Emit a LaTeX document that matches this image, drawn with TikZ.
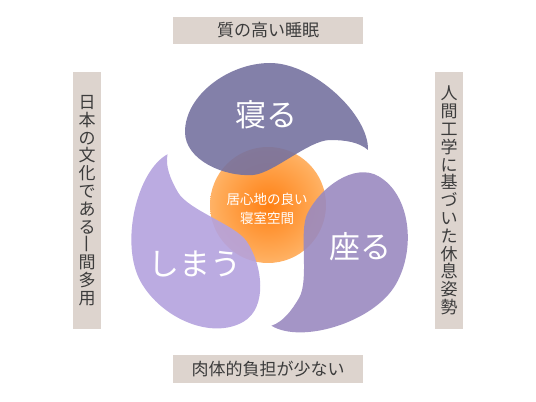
\documentclass[tikz,border=0pt]{standalone}
\usepackage{fontspec}
\setmainfont{Noto Sans CJK JP}
\usepackage{xcolor}
\usepackage{graphicx}
\usepackage{tikz}
\usetikzlibrary{positioning}

\definecolor{neru}{RGB}{118,114,160}
\definecolor{suwaru}{RGB}{154,138,192}
\definecolor{shimau}{RGB}{180,162,222}
\definecolor{boxfill}{RGB}{221,212,206}
\definecolor{boxtext}{RGB}{60,60,60}
\definecolor{glowA}{RGB}{255,128,20}
\definecolor{glowB}{RGB}{255,172,90}
\definecolor{glowC}{RGB}{255,230,208}
\pgfdeclareradialshading{glow}{\pgfpoint{0bp}{0bp}}{color(0bp)=(glowA); color(22bp)=(glowB); color(50bp)=(glowC)}

\begin{document}
\begin{tikzpicture}[x=1pt, y=1pt,
    labelbox/.style={fill=boxfill, text=boxtext, inner sep=0pt, font=\fontsize{17}{17.8}\selectfont},
    bigtext/.style={text=white, font=\fontsize{31}{31}\selectfont},
    tomoe/.style={fill opacity=.9}]
  \useasboundingbox (0,0) rectangle (536,402);

  % warm centre
  \shade[shading=glow] (268,197) circle (58);

  % three commas, turned by 120 degrees
  \foreach \a/\c in {0/neru, -120/suwaru, 120/shimau}
    \fill[tomoe, \c, shift={(269,192)}, rotate=\a]
      (99,60) .. controls (100,95) and (45,147) .. (1,147)
      .. controls (-40,147) and (-84,115) .. (-84,78)
      .. controls (-84,50) and (-45,33) .. (-16,35)
      .. controls (4,36.4) and (40,70) .. (61,70)
      .. controls (76,70) and (90,68) .. (99,60) -- cycle;

  \node[bigtext] (sleep) at (266,287) {寝る};
  \node[bigtext] (sit) at (360,155) {座る};
  \node[bigtext] (store) at (195,138) {しまう};
  \node[text=white, align=center, font=\fontsize{13.5}{19}\selectfont] (room) at (267,193)
    {居心地の良い\\寝室空間};

  % labels round the edge
  \node[labelbox, minimum width=190pt, minimum height=27pt] (quality) at (268,371.5) {質の高い睡眠};
  \node[labelbox, minimum width=190pt, minimum height=28pt] (burden) at (268,33) {肉体的負担が少ない};
  \node[labelbox, minimum width=28pt, minimum height=257pt, align=center] (culture) at (87,201.5)
    {日\\本\\の\\文\\化\\で\\あ\\る\\\rotatebox[origin=c]{90}{\makebox[1em]{\rule[-.12em]{0pt}{1em}一}}\\間\\多\\用};
  \node[labelbox, minimum width=28pt, minimum height=257pt, align=center] (posture) at (449,201.5)
    {人\\間\\工\\学\\に\\基\\づ\\い\\た\\休\\息\\姿\\勢};
\end{tikzpicture}
\end{document}
